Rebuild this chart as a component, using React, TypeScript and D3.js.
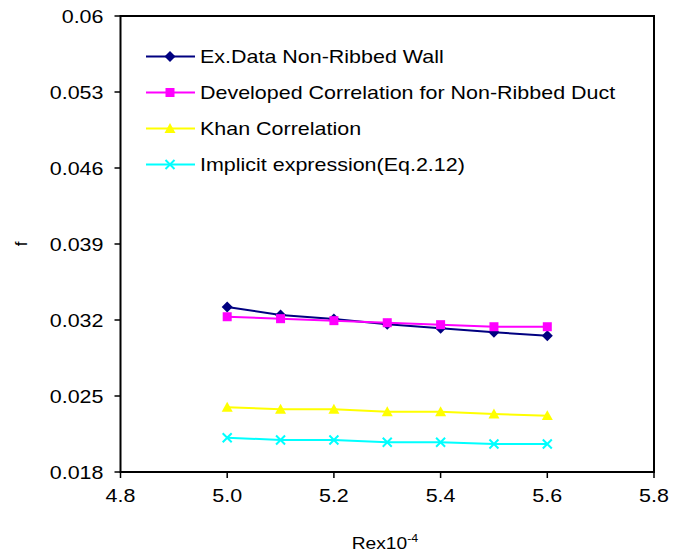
import React from "react";
import * as d3 from "d3";

const xValues = [5.0, 5.1, 5.2, 5.3, 5.4, 5.5, 5.6];
const exData = [0.0332, 0.03246, 0.03209, 0.0316, 0.03124, 0.03087, 0.03055];
const developed = [0.0323, 0.03212, 0.03194, 0.03175, 0.03157, 0.03138, 0.03138];
const khan = [0.02396, 0.02378, 0.02378, 0.02355, 0.02355, 0.02334, 0.02319];
const implicit = [0.02116, 0.02095, 0.02095, 0.02074, 0.02074, 0.02058, 0.02058];
const seriesNames = [
  "Ex.Data Non-Ribbed Wall",
  "Developed Correlation for Non-Ribbed Duct",
  "Khan Correlation",
  "Implicit expression(Eq.2.12)",
];
const seriesColors = ["#000080", "#FF00FF", "#FFFF00", "#00FFFF"];
const seriesMarkers = ["diamond", "square", "triangle", "x"];
const xTicks = [4.8, 5.0, 5.2, 5.4, 5.6, 5.8];
const yTicks = [0.018, 0.025, 0.032, 0.039, 0.046, 0.053, 0.06];

const W = 684;
const H = 558;
const left = 120.5;
const right = 654;
const top = 16;
const bottom = 472;
const FONT = "'Liberation Sans', Arial, sans-serif";
const SX = 1.13;

function T({
  x,
  y,
  anchor = "start",
  size = 19,
  children,
}: {
  x: number;
  y: number;
  anchor?: string;
  size?: number;
  children: React.ReactNode;
}) {
  return (
    <g transform={`translate(${x},${y}) scale(${SX},1)`}>
      <text x={0} y={0} dy="0.35em" textAnchor={anchor} fontSize={size} fill="#000">
        {children}
      </text>
    </g>
  );
}

function Marker({ kind, x, y, color }: { kind: string; x: number; y: number; color: string }) {
  if (kind === "diamond") {
    const s = 5.5;
    return <path d={`M${x},${y - s}L${x + s},${y}L${x},${y + s}L${x - s},${y}Z`} fill={color} />;
  }
  if (kind === "square") {
    const s = 4.5;
    return <rect x={x - s} y={y - s} width={2 * s} height={2 * s} fill={color} />;
  }
  if (kind === "triangle") {
    const s = 5.5;
    return <path d={`M${x},${y - s}L${x + s},${y + s * 0.8}L${x - s},${y + s * 0.8}Z`} fill={color} />;
  }
  const s = 4.5;
  return (
    <path
      d={`M${x - s},${y - s}L${x + s},${y + s}M${x - s},${y + s}L${x + s},${y - s}`}
      stroke={color}
      strokeWidth={2}
      fill="none"
    />
  );
}

export default function App() {
  const x = d3.scaleLinear().domain([4.8, 5.8]).range([left, right]);
  const y = d3.scaleLinear().domain([0.018, 0.06]).range([bottom, top]);
  const allSeries = [exData, developed, khan, implicit];
  const line = d3
    .line<number>()
    .x((_, i) => x(xValues[i]))
    .y((d) => y(d));

  return (
    <svg width={W} height={H} style={{ position: "absolute", left: 0, top: 0, background: "#fff" }} fontFamily={FONT}>
      <rect x={0} y={0} width={W} height={H} fill="#fff" />
      <rect x={left} y={top} width={right - left} height={bottom - top} fill="none" stroke="#000" strokeWidth={2} />
      {yTicks.map((t) => (
        <g key={"y" + t}>
          <line x1={left - 6} x2={left} y1={y(t)} y2={y(t)} stroke="#000" strokeWidth={1.5} />
          <T x={left - 17} y={y(t)} anchor="end">
            {String(+t.toFixed(3))}
          </T>
        </g>
      ))}
      {xTicks.map((t) => (
        <g key={"x" + t}>
          <line x1={x(t)} x2={x(t)} y1={bottom} y2={bottom + 6} stroke="#000" strokeWidth={1.5} />
          <T x={x(t)} y={bottom + 23} anchor="middle">
            {t.toFixed(1)}
          </T>
        </g>
      ))}
      <g transform={`translate(385,549) scale(${SX},1)`}>
        <text x={0} y={0} textAnchor="middle" fontSize={17} fill="#000">
          Rex10<tspan dy={-7} fontSize={11}>-4</tspan>
        </text>
      </g>
      <text transform={`translate(27,244) rotate(-90)`} textAnchor="middle" fontSize={17} fill="#000">
        f
      </text>
      {allSeries.map((s, i) => (
        <g key={"s" + i}>
          <path d={line(s) || ""} fill="none" stroke={seriesColors[i]} strokeWidth={2} />
          {s.map((v, j) => (
            <Marker key={j} kind={seriesMarkers[i]} x={x(xValues[j])} y={y(v)} color={seriesColors[i]} />
          ))}
        </g>
      ))}
      {seriesNames.map((n, i) => {
        const ly = 56.5 + i * 36;
        return (
          <g key={"l" + i}>
            <line x1={146} x2={195} y1={ly} y2={ly} stroke={seriesColors[i]} strokeWidth={2} />
            <Marker kind={seriesMarkers[i]} x={170} y={ly} color={seriesColors[i]} />
            <T x={200} y={ly}>
              {n}
            </T>
          </g>
        );
      })}
    </svg>
  );
}
